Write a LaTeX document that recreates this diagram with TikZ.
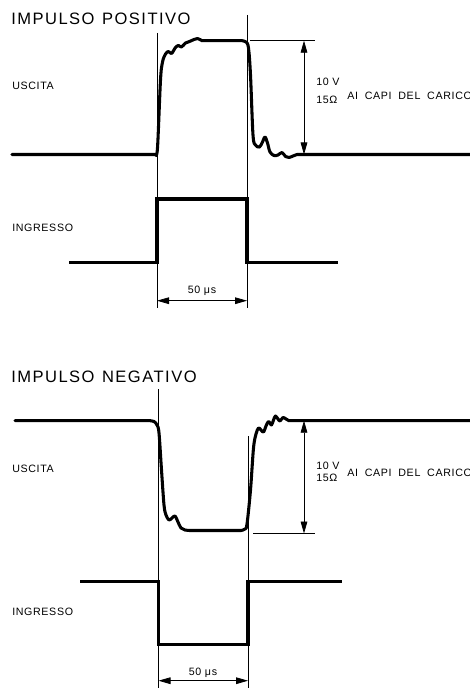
\documentclass[tikz,border=0pt]{standalone}
\usepackage{fontspec}
\setmainfont{Liberation Sans}
\newfontfamily\labfont[LetterSpace=6]{Liberation Sans}
\newfontfamily\titfont[LetterSpace=9]{Liberation Sans}
\usetikzlibrary{arrows.meta}
\begin{document}
\begin{tikzpicture}[x=0.75pt,y=-0.75pt,
  wave/.style={line width=2.3pt,line join=round,line cap=round},
  pulse/.style={line width=2.3pt,line join=miter},
  thin/.style={line width=0.6pt},
  dim/.style={line width=0.6pt,{Triangle[length=9pt,width=5pt]}-{Triangle[length=9pt,width=5pt]}},
  title/.style={anchor=west,inner sep=0pt,font=\titfont\fontsize{12.4}{14}\selectfont},
  lab/.style={anchor=west,inner sep=0pt,font=\labfont\fontsize{8}{10}\selectfont},
  clab/.style={inner sep=0pt,font=\labfont\fontsize{8}{10}\selectfont}]
\useasboundingbox (0,0) rectangle (470,688);
\fill[white] (0,0) rectangle (470,688);

% ---------- IMPULSO POSITIVO ----------
\node[title] (t1) at (11,19) {IMPULSO\hspace{0.45em}POSITIVO};
\node[lab] (u1) at (12,86) {USCITA};
\node[lab] (v1) at (316,82) {10 V};
\node[lab] (o1) at (316,100) {15Ω};
\node[lab] (c1) at (347,96) {AI\hspace{0.3em} CAPI\hspace{0.3em} DEL\hspace{0.3em} CARICO};
\node[lab] (i1) at (12,228) {INGRESSO};
\node[clab] (w1) at (202,291) {50 μs};

% thin guide lines
\coordinate (p1a) at (157,33);  \coordinate (p1b) at (157,308);
\coordinate (p2a) at (247,15);  \coordinate (p2b) at (247,308);
\draw[thin] (p1a) -- (p1b);
\draw[thin] (p2a) -- (p2b);
\coordinate (h1a) at (250,40.7); \coordinate (h1b) at (315,40.7);
\draw[thin] (h1a) -- (h1b);
\coordinate (a1t) at (304,40.7); \coordinate (a1b) at (304,154.5);
\draw[dim] (a1t) -- (a1b);
\coordinate (d1a) at (157,300.7); \coordinate (d1b) at (247,300.7);
\draw[dim] (d1a) -- (d1b);

% output waveform
\draw[wave] (12,154.5) -- (155.5,154.5)
  -- plot[smooth,tension=0.55] coordinates {(155.5,154.5)(157.5,148)(160.5,80)(162.5,62)(165.5,54)(168.5,51.5)(171.5,53.5)(175.5,47.5)(178.5,45.5)(181.5,47)(185.5,43)(189.5,41.5)(194,39.5)(197.5,38.5)(202,40.7)}
  -- (242,40.7)
  -- plot[smooth,tension=0.55] coordinates {(242,40.7)(246,42)(248.5,48)(250.5,75)(253,135)(255.5,145)(259.5,147)(262.5,142)(265,137)(267.5,143)(270,152)(274,155.5)(278,155)(282,152.5)(285.5,156.5)(289,157.5)(293,156)(297,154.5)}
  -- (470,154.5);

% input pulse
\draw[pulse] (69,262.7) -- (157,262.7) -- (157,199) -- (247,199) -- (247,262.7) -- (338,262.7);

% ---------- IMPULSO NEGATIVO ----------
\node[title] (t2) at (11,377) {IMPULSO\hspace{0.45em}NEGATIVO};
\node[lab] (u2) at (12,469) {USCITA};
\node[lab] (v2) at (316,466) {10 V};
\node[lab] (o2) at (316,478) {15Ω};
\node[lab] (c2) at (347,472.5) {AI\hspace{0.3em} CAPI\hspace{0.3em} DEL\hspace{0.3em} CARICO};
\node[lab] (i2) at (12,611.7) {INGRESSO};
\node[clab] (w2) at (203,672.7) {50 μs};

\coordinate (q1a) at (158.5,389); \coordinate (q1b) at (158.5,688);
\coordinate (q2a) at (248,436);   \coordinate (q2b) at (248,688);
\draw[thin] (q1a) -- (q1b);
\draw[thin] (q2a) -- (q2b);
\coordinate (h2a) at (253,533.5); \coordinate (h2b) at (315,533.5);
\draw[thin] (h2a) -- (h2b);
\coordinate (a2t) at (304,420.7); \coordinate (a2b) at (304,533.5);
\draw[dim] (a2t) -- (a2b);
\coordinate (d2a) at (158.5,680.7); \coordinate (d2b) at (248,680.7);
\draw[dim] (d2a) -- (d2b);

% output waveform
\draw[wave] (15,420.7) -- (150,420.7)
  -- plot[smooth,tension=0.55] coordinates {(150,420.7)(154,421.5)(157,425)(159,433)(161.5,470)(164,505)(166,515)(169,520)(172,518)(175,516)(178,522)(181,528)(185,530)(190,530.5)}
  -- (241,530.5)
  -- plot[smooth,tension=0.55] coordinates {(241,530.5)(245,529)(247,524)(250.5,490)(253.5,448)(256,434)(258.5,428)(261,430)(263.5,432)(266,426)(268.5,421.5)(271.5,425)(273.5,420)(275.5,416)(278,419)(280,421)(283,417.5)(286,419)(289,420.7)}
  -- (470,420.7);

% input pulse
\draw[pulse] (80,581.7) -- (158.5,581.7) -- (158.5,644.3) -- (248,644.3) -- (248,581.7) -- (341.7,581.7);
\end{tikzpicture}
\end{document}
